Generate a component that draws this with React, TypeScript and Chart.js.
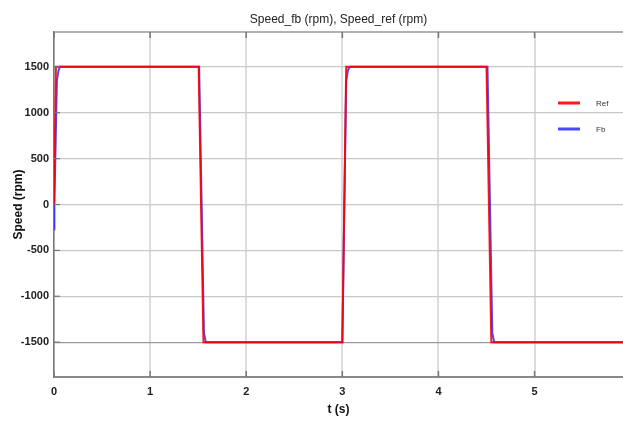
import React, { useEffect, useRef } from "react";
import { Chart, registerables } from "chart.js";

Chart.register(...registerables);

const refTime = [0, 0.02, 1.505, 1.555, 3.0, 3.04, 4.5, 4.55, 5.92];
const refSpeed = [0, 1500, 1500, -1500, -1500, 1500, 1500, -1500, -1500];

const fbTime = [0, 0.004, 0.03, 0.045, 0.06, 1.51, 1.56, 1.58, 3.0, 3.04, 3.06, 3.08, 4.51, 4.56, 4.58, 5.92];
const fbSpeed = [-270, 0, 1350, 1450, 1500, 1500, -1400, -1500, -1500, 1350, 1470, 1500, 1500, -1400, -1500, -1500];

const xTicks = [0, 1, 2, 3, 4, 5];
const yTicks = [-1500, -1000, -500, 0, 500, 1000, 1500];

const titleText = "Speed_fb (rpm), Speed_ref (rpm)";
const legendLabels = ["Ref", "Fb"];
const legendColors = ["rgba(255,0,0,0.9)", "rgba(40,40,255,0.85)"];

const decorPlugin = {
  id: "decor",
  afterDraw(chart: any) {
    const ctx = chart.ctx;
    const a = chart.chartArea;
    const xs = chart.scales.x;
    const ys = chart.scales.y;
    ctx.save();
    ctx.fillStyle = "#222";
    ctx.font = "12px 'Liberation Sans', Arial, sans-serif";
    ctx.textAlign = "center";
    ctx.textBaseline = "middle";
    ctx.fillText(titleText, (a.left + a.right) / 2, 20);
    ctx.strokeStyle = "#999";
    ctx.lineWidth = 1.5;
    ctx.beginPath();
    ctx.moveTo(a.left, a.top);
    ctx.lineTo(a.right, a.top);
    ctx.stroke();
    ctx.strokeStyle = "#777";
    ctx.lineWidth = 1.5;
    xTicks.forEach((t) => {
      const px = xs.getPixelForValue(t);
      ctx.beginPath();
      ctx.moveTo(px, a.top);
      ctx.lineTo(px, a.top + 6);
      ctx.moveTo(px, a.bottom);
      ctx.lineTo(px, a.bottom - 6);
      ctx.stroke();
    });
    ctx.lineWidth = 1.2;
    yTicks.forEach((t) => {
      const py = ys.getPixelForValue(t);
      ctx.beginPath();
      ctx.moveTo(a.left, py);
      ctx.lineTo(a.left + 6, py);
      ctx.stroke();
    });
    const ly = [103, 129];
    legendLabels.forEach((lab, i) => {
      ctx.strokeStyle = legendColors[i];
      ctx.lineWidth = 3;
      ctx.beginPath();
      ctx.moveTo(558, ly[i]);
      ctx.lineTo(580, ly[i]);
      ctx.stroke();
      ctx.fillStyle = "#333";
      ctx.font = "8px 'Liberation Sans', Arial, sans-serif";
      ctx.textAlign = "left";
      ctx.textBaseline = "middle";
      ctx.fillText(lab, 596, ly[i] + 1);
    });
    ctx.restore();
  },
};

export default function App() {
  const ref = useRef<HTMLCanvasElement | null>(null);
  useEffect(() => {
    document.body.style.margin = "0";
    const canvas = ref.current!;
    const chart = new Chart(canvas, {
      type: "line",
      data: {
        datasets: [
          {
            label: "Ref",
            data: refTime.map((t, i) => ({ x: t, y: refSpeed[i] })),
            borderColor: legendColors[0],
            borderWidth: 2,
            pointRadius: 0,
            tension: 0,
          },
          {
            label: "Fb",
            data: fbTime.map((t, i) => ({ x: t, y: fbSpeed[i] })),
            borderColor: legendColors[1],
            borderWidth: 2,
            pointRadius: 0,
            tension: 0,
          },
        ],
      },
      options: {
        animation: false,
        responsive: false,
        maintainAspectRatio: false,
        layout: { padding: { top: 32, right: 0, left: 0, bottom: 0 } },
        plugins: {
          legend: { display: false },
          title: { display: false },
          tooltip: { enabled: false },
        },
        scales: {
          x: {
            type: "linear",
            min: 0,
            max: 5.92,
            afterBuildTicks: (s: any) => {
              s.ticks = xTicks.map((v) => ({ value: v }));
            },
            afterFit: (s: any) => {
              s.height = 45;
            },
            grid: { color: "#dcdcdc", lineWidth: 2, drawTicks: false },
            border: { display: true, color: "#888", width: 2 },
            ticks: {
              color: "#222",
              padding: 8,
              font: { family: "'Liberation Sans', Arial, sans-serif", size: 11, weight: "bold" },
              maxRotation: 0,
              autoSkip: false,
              callback: (v: any) => String(v),
            },
            title: {
              display: true,
              text: "t (s)",
              color: "#111",
              font: { family: "'Liberation Sans', Arial, sans-serif", size: 12, weight: "bold" },
              padding: { top: 0, bottom: 5 },
            },
          },
          y: {
            type: "linear",
            min: -1880,
            max: 1880,
            afterBuildTicks: (s: any) => {
              s.ticks = yTicks.map((v) => ({ value: v }));
            },
            afterFit: (s: any) => {
              s.width = 54;
            },
            grid: {
              color: (c: any) => (c.tick && c.tick.value === -1500 ? "#999" : "#c8c8c8"),
              lineWidth: 1.2,
              drawTicks: false,
            },
            border: { display: true, color: "#777", width: 1.5 },
            ticks: {
              color: "#222",
              padding: 5,
              font: { family: "'Liberation Sans', Arial, sans-serif", size: 11, weight: "bold" },
              autoSkip: false,
              callback: (v: any) => String(v),
            },
            title: {
              display: true,
              text: "Speed (rpm)",
              color: "#111",
              font: { family: "'Liberation Sans', Arial, sans-serif", size: 12, weight: "bold" },
              padding: { top: 11, bottom: 0 },
            },
          },
        },
      },
      plugins: [decorPlugin],
    } as any);
    return () => chart.destroy();
  }, []);
  return (
    <div style={{ position: "relative", width: 623, height: 422, background: "#fff" }}>
      <canvas ref={ref} width={623} height={422} style={{ display: "block", width: 623, height: 422 }} />
    </div>
  );
}
